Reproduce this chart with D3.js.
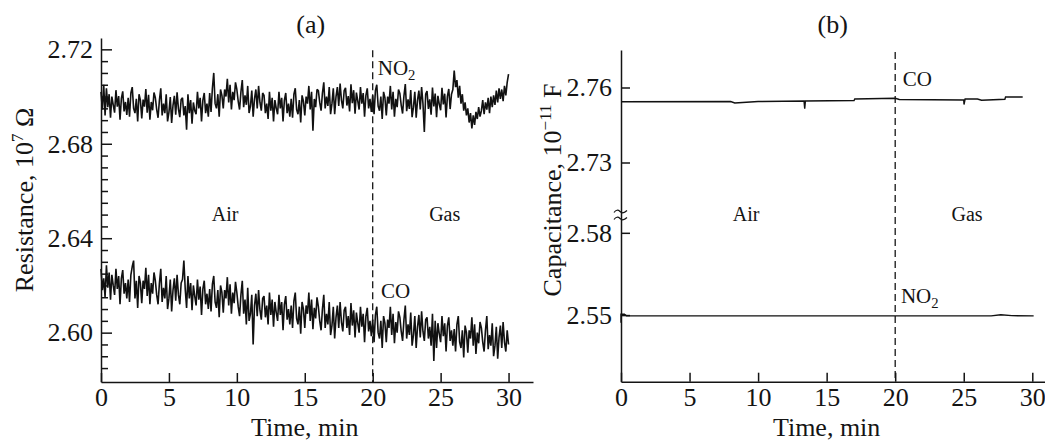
<!DOCTYPE html>
<html>
<head>
<meta charset="utf-8">
<script src="https://cdn.jsdelivr.net/npm/d3@7"></script>
<style>
body{margin:0;background:#fff;}
svg text{font-family:"Liberation Serif","Times New Roman",serif;fill:#141414;}
</style>
</head>
<body>
<svg id="chart" width="1045" height="443"></svg>
<script>
// ---- data ----
var resStep=0.1;   // resistance records sampled every 0.1 min, 0..30
var resNO2=[2.7020,2.6945,2.7050,2.6920,2.7035,2.6955,2.7010,2.6910,2.7000,2.6965,
2.6932,2.7027,2.6957,2.7002,2.6902,2.6992,2.7022,2.6937,2.6977,2.6922,
2.6995,2.6915,2.7015,2.7040,2.6950,2.6930,2.6990,2.6895,2.7010,2.6985,
2.6907,2.6987,2.6957,2.7032,2.6932,2.7007,2.6902,2.6977,2.6942,2.7017,
2.6995,2.6945,2.6910,2.6985,2.7035,2.6920,2.6970,2.6930,2.7010,2.6895,
2.6933,2.6998,2.6888,2.6963,2.7003,2.6923,2.7018,2.6948,2.6913,2.6988,
2.6995,2.6920,2.6960,2.6860,2.7010,2.6930,2.6985,2.6885,2.6975,2.6940,
2.6925,2.7020,2.6950,2.6995,2.6895,2.6985,2.7015,2.6930,2.6970,2.6915,
2.7015,2.6935,2.7035,2.7100,2.6970,2.6950,2.7010,2.6915,2.7030,2.7005,
2.6950,2.7030,2.7000,2.7075,2.6975,2.7050,2.6945,2.7020,2.6985,2.7060,
2.7030,2.6980,2.6945,2.7020,2.7070,2.6955,2.7005,2.6965,2.7045,2.6930,
2.6960,2.7025,2.6915,2.6990,2.7030,2.6950,2.7045,2.6975,2.6940,2.7015,
2.7005,2.6930,2.6970,2.6905,2.7020,2.6940,2.6995,2.6895,2.6985,2.6950,
2.6925,2.7020,2.6950,2.6995,2.6895,2.6985,2.7015,2.6930,2.6970,2.6915,
2.6990,2.6910,2.7010,2.7035,2.6945,2.6925,2.6985,2.6890,2.7005,2.6980,
2.6920,2.7000,2.6970,2.7045,2.6945,2.7020,2.6855,2.6990,2.6955,2.7030,
2.7025,2.6975,2.6940,2.7015,2.7060,2.6950,2.7000,2.6960,2.7040,2.6925,
2.6970,2.7035,2.6925,2.7000,2.7040,2.6960,2.7055,2.6985,2.6950,2.7025,
2.7037,2.6962,2.7002,2.6937,2.7052,2.6972,2.7027,2.6927,2.7017,2.6982,
2.6945,2.7040,2.6970,2.7015,2.6915,2.7005,2.7035,2.6950,2.6990,2.6935,
2.7005,2.6925,2.7025,2.7050,2.6960,2.6940,2.7000,2.6905,2.7020,2.6995,
2.6920,2.7000,2.6970,2.7045,2.6945,2.7020,2.6915,2.6990,2.6955,2.7030,
2.7013,2.6963,2.6928,2.7003,2.7053,2.6938,2.6988,2.6948,2.7028,2.6913,
2.6955,2.7020,2.6910,2.6985,2.7025,2.6945,2.7040,2.6970,2.6850,2.7010,
2.7023,2.6948,2.6988,2.6923,2.7038,2.6958,2.7013,2.6913,2.7003,2.6968,
2.6942,2.7037,2.6967,2.7012,2.6912,2.7002,2.7032,2.6947,2.7010,2.7030,
2.7110,2.7040,2.7070,2.6995,2.7045,2.6970,2.7010,2.6940,2.6975,2.6920,
2.6950,2.6890,2.6930,2.6865,2.6920,2.6880,2.6935,2.6905,2.6955,2.6915,
2.6940,2.6985,2.6925,2.6975,2.6945,2.6995,2.6930,2.7000,2.6955,2.7005,
2.6965,2.7025,2.6975,2.7035,2.6990,2.7030,2.6980,2.7045,2.7005,2.7060,
2.7095];
var resCO=[2.6270,2.6180,2.6230,2.6150,2.6285,2.6190,2.6255,2.6140,2.6245,2.6200,
2.6160,2.6270,2.6185,2.6240,2.6120,2.6230,2.6265,2.6165,2.6210,2.6145,
2.6225,2.6130,2.6245,2.6280,2.6305,2.6145,2.6220,2.6105,2.6240,2.6210,
2.6125,2.6220,2.6185,2.6275,2.6155,2.6245,2.6120,2.6210,2.6165,2.6255,
2.6220,2.6160,2.6120,2.6210,2.6270,2.6130,2.6190,2.6145,2.6240,2.6100,
2.6145,2.6225,2.6090,2.6180,2.6230,2.6135,2.6245,2.6160,2.6120,2.6210,
2.6225,2.6305,2.6185,2.6105,2.6240,2.6145,2.6210,2.6095,2.6200,2.6155,
2.6115,2.6225,2.6140,2.6195,2.6075,2.6185,2.6220,2.6120,2.6165,2.6100,
2.6185,2.6090,2.6205,2.6240,2.6130,2.6105,2.6180,2.6065,2.6200,2.6170,
2.6085,2.6180,2.6145,2.6235,2.6115,2.6205,2.6080,2.6170,2.6125,2.6215,
2.6170,2.6110,2.6070,2.6160,2.6220,2.6080,2.6140,2.6035,2.6190,2.6050,
2.6080,2.6160,2.5950,2.6115,2.6165,2.6070,2.6180,2.6095,2.6055,2.6145,
2.6155,2.6065,2.6115,2.6035,2.6170,2.6075,2.6140,2.6025,2.6130,2.6085,
2.6050,2.6160,2.6075,2.6130,2.6010,2.6120,2.6155,2.6055,2.6100,2.6035,
2.6115,2.6020,2.6135,2.6170,2.6060,2.6035,2.6110,2.5995,2.6130,2.6100,
2.6020,2.6115,2.6080,2.6170,2.6050,2.6140,2.6015,2.6105,2.6060,2.6150,
2.6110,2.6050,2.6010,2.6100,2.6160,2.6020,2.6080,2.6035,2.6130,2.5990,
2.6030,2.6110,2.5975,2.6065,2.6115,2.6020,2.6130,2.6045,2.6005,2.6095,
2.6110,2.6020,2.6070,2.5990,2.6125,2.6030,2.6095,2.5980,2.6085,2.6040,
2.6000,2.6110,2.6025,2.6080,2.5960,2.6070,2.6105,2.6005,2.6050,2.5985,
2.6055,2.5960,2.6075,2.6110,2.6000,2.5975,2.6050,2.5935,2.6070,2.6040,
2.5960,2.6055,2.6020,2.6110,2.5990,2.6080,2.5955,2.6045,2.6000,2.6090,
2.6065,2.6005,2.5965,2.6055,2.6115,2.5975,2.6035,2.5990,2.6085,2.5945,
2.5990,2.6070,2.5935,2.6025,2.6075,2.5980,2.6090,2.6005,2.5965,2.6055,
2.6065,2.5975,2.6025,2.5945,2.6080,2.5880,2.6050,2.5935,2.6040,2.5995,
2.5960,2.6070,2.5985,2.6040,2.5920,2.6030,2.6065,2.5965,2.6010,2.5945,
2.6015,2.5920,2.6035,2.6070,2.5960,2.5935,2.6010,2.5895,2.6030,2.6000,
2.5915,2.6010,2.5975,2.6065,2.5945,2.6035,2.5910,2.6000,2.5955,2.6045,
2.6020,2.5960,2.5920,2.6010,2.6070,2.5930,2.5990,2.5945,2.6040,2.5900,
2.5945,2.6025,2.5890,2.5980,2.6030,2.5935,2.6045,2.5960,2.5920,2.6010,
2.5950];

// capacitance records are step-like, so stored as (time, value) breakpoints
var capTimeCO=[0,8.0,8.3,10,13.35,13.4,13.45,17.0,17.05,20,20.3,25.0,25.02,25.1,26,26.3,28,28.05,29.3];
var capCO=[2.7543,2.7544,2.7538,2.7544,2.7546,2.7515,2.7546,2.7548,2.7554,2.7557,2.7552,2.7550,2.7532,2.7554,2.7554,2.7549,2.7553,2.7562,2.7562];
var capTimeNO2=[0,0,0.25,0.4,27,27.7,28.5,30.1];
var capNO2=[2.5472,2.5503,2.5503,2.5497,2.5497,2.5501,2.5498,2.5497];

var xTicks=[0,5,10,15,20,25,30];
var resTicks=[2.60,2.64,2.68,2.72];
var capTicks=[2.55,2.58,2.73,2.76];
var gasOn=20;   // gas let in at 20 min

var svg=d3.select("#chart");
var fmt=d3.format(".2f");

// ---- scales ----
var xL=d3.scaleLinear().domain([0,31.8]).range([101,533]);
var yL=d3.scaleLinear().domain([2.5791,2.7248]).range([382,38]);
var xR=d3.scaleLinear().domain([0,31]).range([621,1046]);
// broken axis: both segments squeezed onto one polylinear scale
var yR=d3.scaleLinear().domain([2.5257,2.5865,2.709,2.775]).range([381.7,215,215,50]);

function styleAxis(g){
  g.selectAll("path,line").attr("stroke","#141414").attr("stroke-width",1.5);
  g.selectAll("text").attr("font-size",26).attr("fill","#141414")
    .style("font-family",'"Liberation Serif","Times New Roman",serif');
}

/////////// panel (a)
var gA=svg.append("g");
gA.append("g").attr("transform","translate(0,382)")
  .call(d3.axisBottom(xL).tickValues(xTicks).tickSize(-9).tickSizeOuter(0).tickPadding(6))
  .call(styleAxis);
gA.append("g").attr("transform","translate(101,0)")
  .call(d3.axisLeft(yL).tickValues(resTicks).tickFormat(fmt).tickSize(-11).tickSizeOuter(0).tickPadding(8))
  .call(styleAxis);
// minor ticks every 0.005
var minor=d3.range(517,545).map(function(k){return k/200;})
  .filter(function(v){return resTicks.every(function(t){return Math.abs(t-v)>1e-6;});});
gA.append("g").attr("transform","translate(101,0)")
  .call(d3.axisLeft(yL).tickValues(minor).tickFormat("").tickSize(-7).tickSizeOuter(0))
  .call(function(g){g.select(".domain").remove();})
  .call(styleAxis);

var lineA=d3.line().x(function(d,i){return xL(i*resStep);}).y(function(d){return yL(d);});
[resNO2,resCO].forEach(function(s){
  gA.append("path").datum(s).attr("d",lineA)
    .attr("fill","none").attr("stroke","#111").attr("stroke-width",1.6).attr("stroke-linejoin","bevel");
});

gA.append("line").attr("x1",xL(gasOn)).attr("x2",xL(gasOn))
  .attr("y1",yL(2.72)+1).attr("y2",yL.range()[0])
  .attr("stroke","#141414").attr("stroke-width",1.3).attr("stroke-dasharray","7,4");

/////////// panel (b)
var gB=svg.append("g");
gB.append("g").attr("transform","translate(0,381.7)")
  .call(d3.axisBottom(xR).tickValues(xTicks).tickSize(-9).tickSizeOuter(0).tickPadding(6))
  .call(styleAxis);
gB.append("g").attr("transform","translate(621,0)")
  .call(d3.axisLeft(yR).tickValues(capTicks).tickFormat(fmt).tickSize(-9).tickSizeOuter(0).tickPadding(9))
  .call(styleAxis);

// break mark on the y axis
var brk=gB.append("g").attr("transform","translate(621,"+yR(2.6)+")");
[-3.5,3.5].forEach(function(dy){
  brk.append("path").attr("d","M-7,"+(dy+1)+" q3,-4 6,-1 t7,-1")
    .attr("fill","none").attr("stroke","#141414").attr("stroke-width",1.2);
});

var lineCO=d3.line().x(function(d,i){return xR(capTimeCO[i]);}).y(function(d){return yR(d);});
var lineNO2=d3.line().x(function(d,i){return xR(capTimeNO2[i]);}).y(function(d){return yR(d);});
gB.append("path").datum(capCO).attr("d",lineCO)
  .attr("fill","none").attr("stroke","#111").attr("stroke-width",1.4);
gB.append("path").datum(capNO2).attr("d",lineNO2)
  .attr("fill","none").attr("stroke","#111").attr("stroke-width",1.4);

gB.append("line").attr("x1",xR(gasOn)).attr("x2",xR(gasOn))
  .attr("y1",yR.range()[3]+2).attr("y2",yR.range()[0])
  .attr("stroke","#141414").attr("stroke-width",1.3).attr("stroke-dasharray","7,4");

/////////// texts
function label(g,x,y,txt,size,anchor){
  return g.append("text").attr("x",x).attr("y",y).attr("font-size",size)
    .attr("text-anchor",anchor||"start").text(txt);
}
function withSub(g,x,y,main,sub,size){
  var t=label(g,x,y,main,size);
  t.append("tspan").attr("font-size",size*0.7).attr("dy",5).text(sub);
  return t;
}

label(gA,(xL(0)+xL(30))/2+6,33,"(a)",26,"middle");
label(gB,(xR(0)+xR(30))/2+6,33,"(b)",26,"middle");

label(gA,xL(9.13),yL(2.6474),"Air",20,"middle");
label(gA,xL(25.3),yL(2.6474),"Gas",20,"middle");
withSub(gA,xL(20.37),yL(2.7091),"NO","2",21);
label(gA,xL(20.61),yL(2.6146),"CO",21);

label(gB,xR(9.12),yR(2.5844),"Air",20,"middle");
label(gB,xR(25.24),yR(2.5844),"Gas",20,"middle");
label(gB,xR(20.55),yR(2.7605),"CO",21);
withSub(gB,xR(20.42),yR(2.5543),"NO","2",21);

// axis titles
var tA=svg.append("text").attr("transform","translate(33,200) rotate(-90)")
  .attr("text-anchor","middle").attr("font-size",26).text("Resistance, 10");
tA.append("tspan").attr("font-size",17).attr("dy",-10).text("7");
tA.append("tspan").attr("dy",10).text(" \u03A9");

var tB=svg.append("text").attr("transform","translate(561,190) rotate(-90)")
  .attr("text-anchor","middle").attr("font-size",26).text("Capacitance, 10");
tB.append("tspan").attr("font-size",17).attr("dy",-10).text("\u221211");
tB.append("tspan").attr("dy",10).text(" F");

label(svg,(xL(0)+xL(30))/2,436,"Time, min",26,"middle");
label(svg,(xR(0)+xR(30))/2,436,"Time, min",26,"middle");
</script>
</body>
</html>
